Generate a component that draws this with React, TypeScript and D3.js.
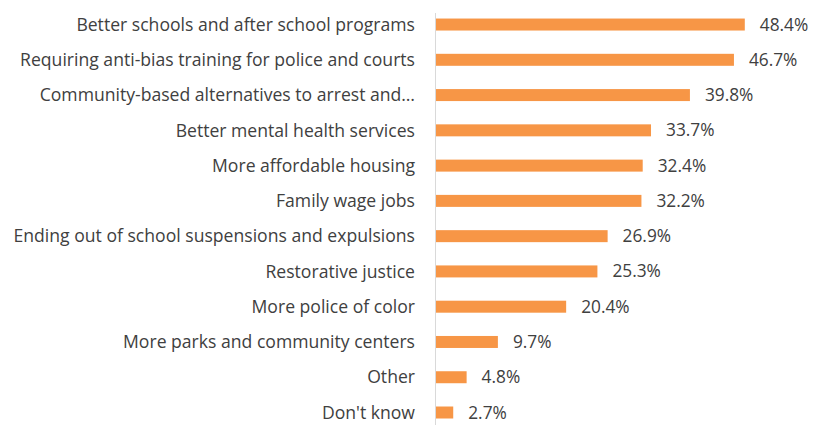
import React from "react";
import * as d3 from "d3";

const categories = [
  "Better schools and after school programs",
  "Requiring anti-bias training for police and courts",
  "Community-based alternatives to arrest and…",
  "Better mental health services",
  "More affordable housing",
  "Family wage jobs",
  "Ending out of school suspensions and expulsions",
  "Restorative justice",
  "More police of color",
  "More parks and community centers",
  "Other",
  "Don't know",
];
const values = [48.4, 46.7, 39.8, 33.7, 32.4, 32.2, 26.9, 25.3, 20.4, 9.7, 4.8, 2.7];
const valueLabels = ["48.4%", "46.7%", "39.8%", "33.7%", "32.4%", "32.2%", "26.9%", "25.3%", "20.4%", "9.7%", "4.8%", "2.7%"];

const W = 813;
const H = 425;
const axisX = 436;
const pxPerPct = 6.38;
const FONT = "'Open Sans', 'Liberation Sans', sans-serif";

export default function App() {
  const x = d3.scaleLinear().domain([0, 60]).range([axisX, axisX + 60 * pxPerPct]);
  const y = d3
    .scaleBand<string>()
    .domain(categories)
    .range([6.9, 6.9 + 35.27 * 12])
    .paddingInner(0.66)
    .paddingOuter(0.33);

  return (
    <svg
      width={W}
      height={H}
      style={{ position: "absolute", left: 0, top: 0, background: "#fff" }}
    >
      <line x1={axisX - 0.5} x2={axisX - 0.5} y1={13} y2={H} stroke="#d9d9d9" strokeWidth={1} />
      {categories.map((c, i) => {
        const yc = (y(c) as number) + y.bandwidth() / 2;
        return (
          <g key={c}>
            <rect
              x={x(0)}
              y={y(c)}
              width={x(values[i]) - x(0)}
              height={y.bandwidth()}
              fill="#F79646"
            />
            <text
              x={axisX - 21}
              y={yc}
              dy="0.35em"
              textAnchor="end"
              fontFamily={FONT}
              fontSize={17.6}
              fill="#404040"
            >
              {c}
            </text>
            <text
              x={x(values[i]) + 15}
              y={yc}
              dy="0.35em"
              fontFamily={FONT}
              fontSize={17.3}
              fill="#404040"
            >
              {valueLabels[i]}
            </text>
          </g>
        );
      })}
    </svg>
  );
}
